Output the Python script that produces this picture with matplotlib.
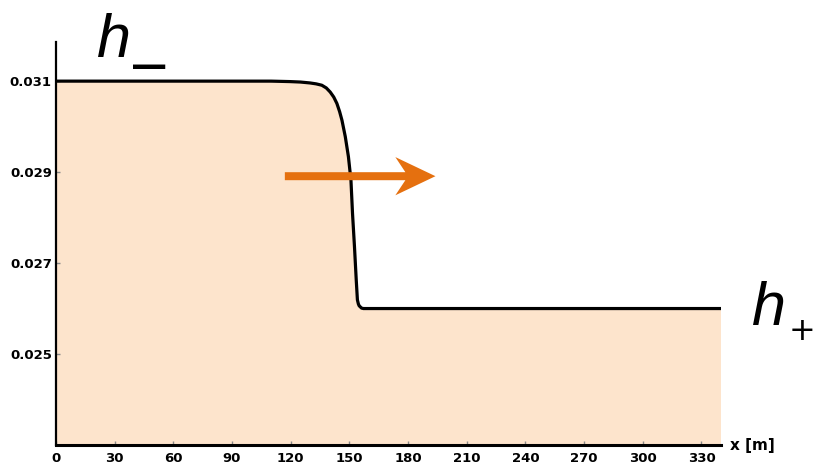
import matplotlib.pyplot as plt

# bore profile: depth h [m] along the channel x [m]
x = [0, 110, 119.7, 125, 129.9, 133, 135.9, 138.2, 140.2, 142, 143.6, 145,
     146.2, 147.9, 149.5, 150.8, 151.6, 152.6, 153.5, 154.1, 154.6, 155.0,
     155.5, 156.2, 157.2, 160, 340]
h = [0.0310, 0.0310, 0.03099, 0.03098, 0.03096, 0.03094, 0.03091, 0.03085,
     0.03076, 0.03065, 0.03051, 0.03033, 0.03014, 0.02978, 0.02934, 0.02882,
     0.02809, 0.02736, 0.02663, 0.02619, 0.02610, 0.02606, 0.02604, 0.02601,
     0.02600, 0.0260, 0.0260]

xticks = [0, 30, 60, 90, 120, 150, 180, 210, 240, 270, 300, 330]
yticks = [0.025, 0.027, 0.029, 0.031]

# propagation direction of the front
arrow_x0, arrow_len = 117, 77
arrow_y = 0.02891

fig = plt.figure(figsize=(8.15, 4.69), dpi=100)
ax = fig.add_axes([0.0687, 0.0512, 0.816, 0.8592])

ax.fill_between(x, h, 0.02, color='#FDE4CC', lw=0)
ax.plot(x, h, color='black', lw=2.3, solid_joinstyle='round',
        solid_capstyle='butt')

ax.arrow(arrow_x0, arrow_y, arrow_len, 0, width=0.000176,
         head_width=0.00084, head_length=20.5, overhang=0.25,
         length_includes_head=True, color='#E5700F', lw=0, zorder=5)

ax.set_xlim(0, 340)
ax.set_ylim(0.023, 0.03186)
ax.set_xticks(xticks)
ax.set_xticklabels([str(v) for v in xticks])
ax.set_yticks(yticks)
ax.set_yticklabels(['%.3f' % v for v in yticks])

for s in ['top', 'right']:
    ax.spines[s].set_visible(False)
ax.spines['left'].set_linewidth(1.6)
ax.spines['bottom'].set_linewidth(2.2)

ax.tick_params(direction='in', length=3, width=1, color='#888888',
               labelsize=9.5)
ax.tick_params(axis='x', pad=5)
ax.tick_params(axis='y', pad=3)
for lbl in ax.get_xticklabels() + ax.get_yticklabels():
    lbl.set_fontweight('bold')

fig.text(730 / 815, 1 - 445 / 469, 'x [m]', fontsize=11, fontweight='bold',
         ha='left', va='center')

# h- and h+ labels
hfont = dict(family='Liberation Sans', style='italic', fontsize=44,
             ha='left', va='baseline')
fig.text(97 / 815, 1 - 57 / 469, 'h', **hfont)
fig.text(131 / 815, 1 - 67 / 469, '—', family='DejaVu Sans',
         fontweight='bold', fontsize=26, ha='left', va='center')
fig.text(752 / 815, 1 - 325 / 469, 'h', **hfont)
fig.text(789 / 815, 1 - 331 / 469, '+', family='DejaVu Sans',
         fontsize=23, ha='left', va='center')

fig.savefig('out.png', dpi=100)
